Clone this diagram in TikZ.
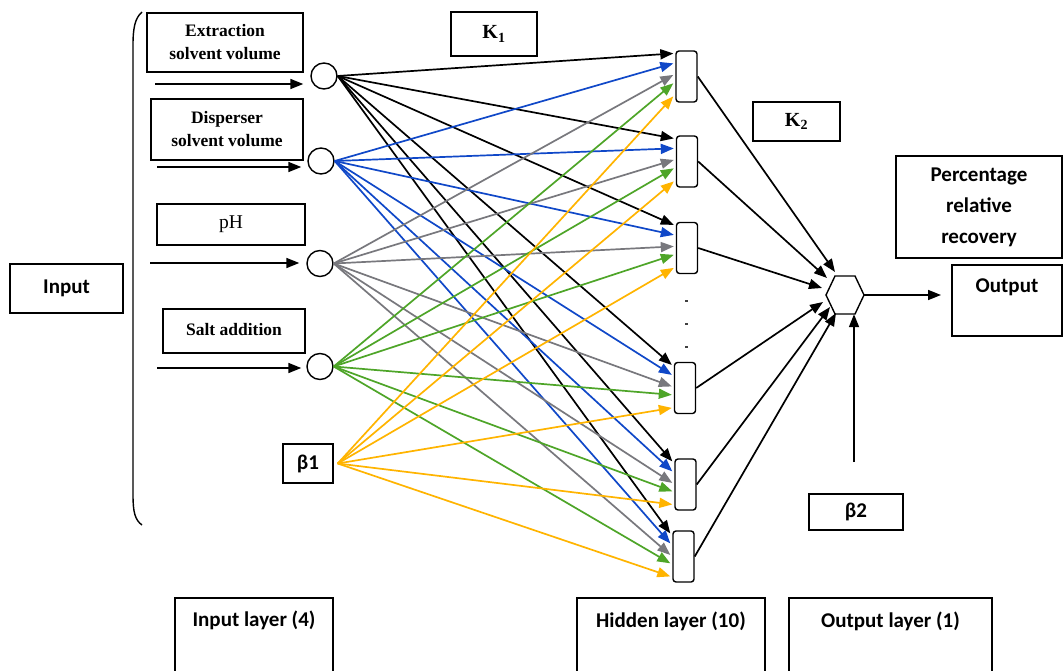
\documentclass[tikz,border=0pt]{standalone}
\usepackage{fontspec}
\setmainfont{Liberation Serif}
\newfontfamily\calfont{Carlito}
\usetikzlibrary{arrows.meta,calc}
\definecolor{cblue}{RGB}{16,72,200}
\definecolor{cgray}{RGB}{120,120,125}
\definecolor{cgreen}{RGB}{78,165,40}
\definecolor{corange}{RGB}{255,180,0}
\begin{document}
\begin{tikzpicture}[x=1pt,y=-1pt,
 box/.style={draw,line width=1.4pt,inner sep=0pt,align=center},
 tbox/.style={box,font=\fontsize{17.5}{23}\selectfont\bfseries},
 cbox/.style={box,font=\calfont\fontsize{21}{31}\selectfont\bfseries},
 ctext/.style={inner sep=0pt,font=\calfont\fontsize{21}{31}\selectfont\bfseries},
 neuron/.style={draw,circle,line width=1.4pt,minimum size=26pt,inner sep=0pt},
 hid/.style={draw,rounded corners=3pt,line width=1.4pt,minimum width=21pt,minimum height=51pt,inner sep=0pt,fill=white},
 conn/.style={line width=1.7pt,-{Triangle[length=13pt,width=10pt]}},
]
\useasboundingbox (0,0) rectangle (1064,671);
\fill[white] (0,0) rectangle (1064,671);

% bracket
\draw[line width=1.4pt] (142,12) .. controls (135,18) and (133,28) .. (133,45) -- (133,495) .. controls (133,512) and (135,520) .. (142,525);

% label boxes
\node[cbox,minimum width=113pt,minimum height=49pt] (inbox) at (66.5,288.5) {Input};
\node[tbox,minimum width=156pt,minimum height=59pt] (L1) at (225,42.5) {Extraction\\solvent volume};
\node[tbox,minimum width=152pt,minimum height=61pt] (L2) at (227,129.5) {Disperser\\solvent volume};
\node[box,font=\fontsize{19.5}{23}\selectfont,minimum width=148pt,minimum height=41pt] (L3) at (231,224.5) {pH};
\node[tbox,minimum width=142pt,minimum height=44pt,text depth=3pt] (L4) at (234,331) {Salt addition};
\node[box,font=\fontsize{20}{23}\selectfont\bfseries,minimum width=86pt,minimum height=44pt] (K1) at (494,34) {K\textsubscript{1}};
\node[box,font=\fontsize{20}{23}\selectfont\bfseries,minimum width=87pt,minimum height=39pt] (K2) at (796.5,121.5) {K\textsubscript{2}};
\node[cbox,minimum width=50pt,minimum height=39pt] (B1) at (308,463.5) {β1};
\node[cbox,minimum width=94pt,minimum height=36pt] (B2) at (856,512) {β2};
\node[cbox,minimum width=166pt,minimum height=102pt] (prr) at (979,207) {Percentage\\relative\\recovery};
\node[box,minimum width=110pt,minimum height=71pt] (outbox) at (1007,300.5) {};
\node[ctext] (outtxt) at (1007,287) {Output};

% bottom layer boxes
\node[box,minimum width=158pt,minimum height=84pt] (ilay) at (254,640) {};
\node[ctext] (ilaytxt) at (254,620) {Input layer (4)};
\node[box,minimum width=188pt,minimum height=84pt] (hlay) at (671,640) {};
\node[ctext] (hlaytxt) at (671,621) {Hidden layer (10)};
\node[box,minimum width=203pt,minimum height=84pt] (olay) at (890.5,640) {};
\node[ctext] (olaytxt) at (890.5,621) {Output layer (1)};

% input neurons
\node[neuron] (I1) at (324,76) {};
\node[neuron] (I2) at (321,161) {};
\node[neuron] (I3) at (320,263.5) {};
\node[neuron] (I4) at (320,366.5) {};
\coordinate (b1o) at ($(B1.east)+(4,0)$);

% input arrows
\coordinate (a1) at (155,84);
\coordinate (a2) at (157,167);
\coordinate (a3) at (150,263);
\coordinate (a4) at (157,368);
\draw[conn] (a1) -- ($(I1.west |- a1)+(-7,0)$);
\draw[conn] (a2) -- ($(I2.west |- a2)+(-6,0)$);
\draw[conn] (a3) -- ($(I3.west |- a3)+(-7,0)$);
\draw[conn] (a4) -- ($(I4.west |- a4)+(-5,0)$);

% hidden neurons
\node[hid] (H1) at (686.5,76.5) {};
\node[hid] (H2) at (687,161.5) {};
\node[hid] (H3) at (687,248) {};
\node[hid] (H4) at (685,388) {};
\node[hid] (H5) at (685.5,484.5) {};
\node[hid] (H6) at (683.5,556.5) {};
\foreach \yy in {301,324,347} \fill[black!75] (684.5,\yy-1) rectangle (687.5,\yy+1);

% output neuron
\node[circle,minimum size=38pt,inner sep=0pt] (out) at (845,295) {};
\draw[line width=1.4pt] (826,295) -- (835,276) -- (855,276) -- (864,295) -- (855,314) -- (835,314) -- cycle;

% input -> hidden
\foreach \s/\c/\f in {I1.east/black/0.06, I2.east/cblue/0.25, I3.east/cgray/0.47, I4.east/cgreen/0.63, b1o/corange/0.88}
  \foreach \h in {H1,H2,H3,H4,H5,H6}
    \draw[conn,\c] (\s) -- ($(\h.north west)!\f!(\h.south west)+(-2,0)$);

% hidden -> output
\draw[conn] (H1.east) -- ($(out)+(-10,-23)$);
\draw[conn] (H2.east) -- ($(out)+(-18,-17)$);
\draw[conn] (H3.east) -- ($(out)+(-23,-7)$);
\draw[conn] (H4.east) -- ($(out)+(-22,7)$);
\draw[conn] (H5.east) -- ($(out)+(-15,12)$);
\draw[conn] (H6.east) -- ($(out)+(-9,18)$);

% output arrow and bias
\coordinate (oend) at (941,295);
\draw[conn] (out.east) -- (oend);
\coordinate (b2top) at (854,462);
\draw[conn] (b2top) -- (b2top |- out.south);
\end{tikzpicture}
\end{document}
